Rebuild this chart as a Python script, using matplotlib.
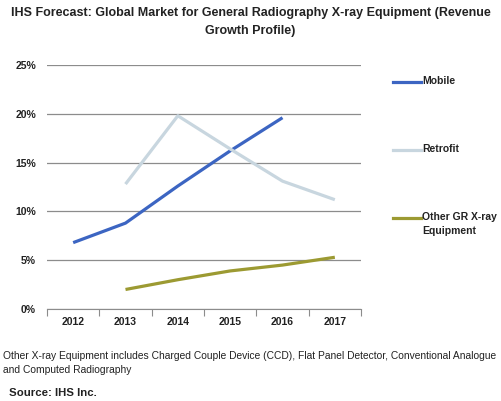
import numpy as np
import matplotlib.pyplot as plt

# Datos
years = ["2012", "2013", "2014", "2015", "2016", "2017"]
mobile = [6.8, 8.8, 12.6, 16.2, 19.6, np.nan]
retrofit = [np.nan, 12.8, 19.8, 16.4, 13.1, 11.2]
other = [np.nan, 2.0, 3.0, 3.9, 4.5, 5.3]

names = ["Mobile", "Retrofit", "Other GR X-ray\nEquipment"]
colors = ["#3C65C2", "#C8D6DF", "#9C9A32"]
yticks = [0, 5, 10, 15, 20, 25]

plt.rcParams['font.family'] = ['Liberation Sans', 'DejaVu Sans']

fig = plt.figure(figsize=(5.01, 4.01), dpi=100)
W, H = 501, 401
ax = fig.add_axes([47 / W, 1 - 309 / H, (361 - 47) / W, (309 - 65) / H])

x = np.arange(len(years))
for serie, c in zip([mobile, retrofit, other], colors):
    ax.plot(x, serie, color=c, lw=2.3, solid_capstyle="butt")

ax.set_xlim(-0.5, len(years) - 0.5)
ax.set_ylim(0, 25)
ax.set_yticks(yticks)
ax.set_yticklabels([f"{v}%" for v in yticks], fontsize=7.5, fontweight="bold", color="#222222")
ax.yaxis.grid(True, color="#8C8C8C", lw=0.9)
ax.set_axisbelow(True)
ax.tick_params(axis="y", length=0, pad=8)

# ticks del eje x entre categorías
ax.set_xticks(np.arange(-0.5, len(years), 1.0))
ax.set_xticklabels([])
ax.set_xticks(x, minor=True)
ax.set_xticklabels(years, minor=True, fontsize=7.5, fontweight="bold", color="#222222")
ax.tick_params(axis="x", which="major", length=5, color="#8C8C8C", direction="out")
ax.tick_params(axis="x", which="minor", length=0, pad=6)

for s in ["top", "right", "left"]:
    ax.spines[s].set_visible(False)
ax.spines["bottom"].set_color("#8C8C8C")

# leyenda manual
leg_y = [82, 150, 218]
for name, c, yy in zip(names, colors, leg_y):
    fig.add_artist(plt.Line2D([393 / W, 421 / W], [1 - yy / H, 1 - yy / H], color=c, lw=2.3))
    fig.text(422 / W, 1 - (yy - 6) / H, name, fontsize=7.5, fontweight="bold",
             color="#222222", va="top", ha="left", linespacing=1.5)

fig.text(0.5, 1 - 7 / H,
         "IHS Forecast: Global Market for General Radiography X-ray Equipment (Revenue\nGrowth Profile)",
         ha="center", va="top", fontsize=9.0, fontweight="bold", color="#222222", linespacing=1.7)

fig.text(3 / W, 1 - 351 / H,
         "Other X-ray Equipment includes Charged Couple Device (CCD), Flat Panel Detector, Conventional Analogue\nand Computed Radiography",
         ha="left", va="top", fontsize=7.4, color="#222222", linespacing=1.45)
fig.text(9 / W, 1 - 388 / H, "Source: IHS Inc.", ha="left", va="top",
         fontsize=8.2, fontweight="bold", color="#222222")

fig.savefig("out.png", dpi=100)
